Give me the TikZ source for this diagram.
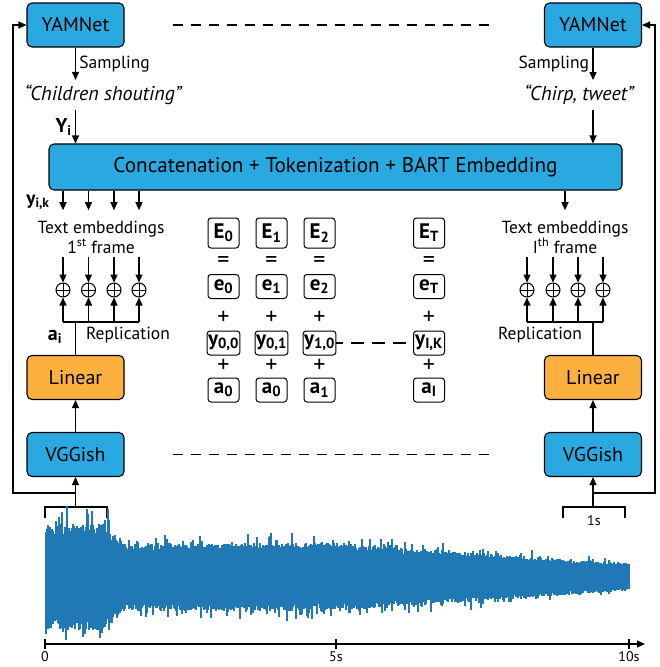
\documentclass[tikz,border=0pt]{standalone}
\usepackage{fontspec}
\setmainfont{PT Sans}
\usepackage{tikz}
\usetikzlibrary{arrows.meta, positioning, calc}
\definecolor{yamblue}{HTML}{29A9E0}
\definecolor{linorange}{HTML}{FBB040}
\definecolor{waveblue}{HTML}{2078B4}

\begin{document}
\begin{tikzpicture}[
    x=1pt, y=-1pt,
    box/.style={draw, line width=1.1pt, rounded corners=5pt, minimum width=97pt, minimum height=44pt, font=\fontsize{20}{24}\selectfont},
    cell/.style={draw, line width=1pt, rounded corners=3pt, minimum width=31pt, minimum height=24pt, inner sep=1pt, font=\bfseries\fontsize{21}{24}\selectfont},
    arr/.style={-{Triangle[length=8pt, width=7pt]}, line width=1.1pt},
    wire/.style={line width=1.1pt},
    dashline/.style={line width=1.1pt, dash pattern=on 10pt off 8pt},
    lbl/.style={font=\fontsize{17.5}{20}\selectfont},
    blbl/.style={font=\bfseries\fontsize{20}{22}\selectfont},
    quote/.style={font=\itshape\fontsize{20}{22}\selectfont, inner ysep=5pt},
    sgn/.style={font=\fontsize{24}{24}\selectfont, inner sep=0pt},
    axlbl/.style={font=\fontsize{14}{16}\selectfont},
    wave/.style={waveblue, line width=1.3pt},
    oplus/.style={circle, draw, line width=1pt, minimum size=14pt, inner sep=0pt,
        path picture={\draw[line width=1pt] (path picture bounding box.north) -- (path picture bounding box.south)
            (path picture bounding box.west) -- (path picture bounding box.east);}},
]
\fill[white] (0,0) rectangle (660,667);
\useasboundingbox (0,0) rectangle (660,667);

% YAMNet
\node[box, fill=yamblue] (yamL) at (75.5,25) {YAMNet};
\node[box, fill=yamblue] (yamR) at (593,25) {YAMNet};
\draw[dashline, shorten <=48pt, shorten >=50pt] (yamL) -- (yamR);

% Sampled captions
\node[quote] (capL) at (103,95) {“Children shouting”};
\node[quote] (capR) at (579,95) {“Chirp, tweet”};
\draw[arr] (yamL) -- (yamL |- capL.north) node[lbl, midway, right] {Sampling};
\draw[arr] (yamR) -- (yamR |- capR.north) node[lbl, midway, left] {Sampling};

% Concatenation
\node[box, fill=yamblue, minimum width=573pt, minimum height=46pt, font=\fontsize{21.2}{24}\selectfont] (concat) at (335.5,167) {Concatenation + Tokenization + BART Embedding};
\draw[arr] (capL.south -| yamL) -- (yamL |- concat.north) node[blbl, midway, left] {Y\textsubscript{i}};
\draw[arr] (capR.south -| yamR) -- (yamR |- concat.north);

% Text embeddings
\node[lbl, align=center] (txtL) at (101,237) {Text embeddings\\1\textsuperscript{st} frame};
\node[lbl, align=center] (txtR) at (565,237) {Text embeddings\\I\textsuperscript{th} frame};
\node[blbl, font=\bfseries\fontsize{19}{22}\selectfont] (yik) at (38,202) {y\textsubscript{i,k}};

% Sums
\node[oplus] (pL1) at (63,290) {};
\node[oplus] (pL2) at (88.5,290) {};
\node[oplus] (pL3) at (114,290) {};
\node[oplus] (pL4) at (139,290) {};
\node[oplus] (pR1) at (527,290) {};
\node[oplus] (pR2) at (553,290) {};
\node[oplus] (pR3) at (578,290) {};
\node[oplus] (pR4) at (603,290) {};
\foreach \i in {1,...,4} {
    \draw[arr, shorten >=7pt] (concat.south -| pL\i) -- (txtL.north -| pL\i);
    \draw[arr] (txtL.south -| pL\i) -- (pL\i);
    \draw[arr] (txtR.south -| pR\i) -- (pR\i);
}
\draw[arr, shorten >=7pt] (concat.south -| txtR) -- (txtR.north);

% Linear and VGGish
\node[box, fill=linorange] (linL) at (75.5,377.5) {Linear};
\node[box, fill=linorange] (linR) at (593,377.5) {Linear};
\node[box, fill=yamblue] (vggL) at (75.5,454.5) {VGGish};
\node[box, fill=yamblue] (vggR) at (593,454.5) {VGGish};
\draw[arr] (vggL) -- (linL);
\draw[arr] (vggR) -- (linR);
\draw[dashline, shorten <=48pt, shorten >=50pt] (vggL) -- (vggR);

% Replication
\coordinate (repL) at (75.5,322);
\coordinate (repR) at (593,322);
\draw[wire] (linL) -- (repL);
\draw[wire] (linR) -- (repR);
\draw[wire] (repL -| pL1) -- (repL -| pL4);
\draw[wire] (repR -| pR1) -- (repR -| pR4);
\foreach \i in {1,...,4} {
    \draw[arr] (repL -| pL\i) -- (pL\i);
    \draw[arr] (repR -| pR\i) -- (pR\i);
}
\node[blbl] (ai) at (55,337) {a\textsubscript{i}};
\node[lbl] (repLabL) at (128,335) {Replication};
\node[lbl] (repLabR) at (540,335) {Replication};

% Token sums
\node[cell, minimum height=30pt] (E0) at (223.5,233) {E\textsubscript{0}};
\node[cell, minimum height=30pt] (E1) at (271.5,233) {E\textsubscript{1}};
\node[cell, minimum height=30pt] (E2) at (319.5,233) {E\textsubscript{2}};
\node[cell, minimum height=30pt] (ET) at (429,233) {E\textsubscript{T}};
\node[sgn] (q0) at (223.5,262) {=};
\node[sgn] (q1) at (271.5,262) {=};
\node[sgn] (q2) at (319.5,262) {=};
\node[sgn] (qT) at (429,262) {=};
\node[cell] (e0) at (223.5,286.5) {e\textsubscript{0}};
\node[cell] (e1) at (271.5,286.5) {e\textsubscript{1}};
\node[cell] (e2) at (319.5,286.5) {e\textsubscript{2}};
\node[cell] (eT) at (429,286.5) {e\textsubscript{T}};
\node[sgn] (s0) at (223.5,318) {+};
\node[sgn] (s1) at (271.5,318) {+};
\node[sgn] (s2) at (319.5,318) {+};
\node[sgn] (sT) at (429,318) {+};
\node[cell] (y00) at (223.5,343) {y\textsubscript{0,0}};
\node[cell] (y01) at (271.5,343) {y\textsubscript{0,1}};
\node[cell] (y10) at (319.5,343) {y\textsubscript{1,0}};
\node[cell] (yIK) at (429,343) {y\textsubscript{I,K}};
\node[sgn] (t0) at (223.5,366) {+};
\node[sgn] (t1) at (271.5,366) {+};
\node[sgn] (t2) at (319.5,366) {+};
\node[sgn] (tT) at (429,366) {+};
\node[cell] (a0) at (223.5,390) {a\textsubscript{0}};
\node[cell] (a0b) at (271.5,390) {a\textsubscript{0}};
\node[cell] (a1) at (319.5,390) {a\textsubscript{1}};
\node[cell] (aI) at (429,390) {a\textsubscript{I}};
\draw[dashline, dash pattern=on 13pt off 8pt, dash phase=6pt] (y10) -- (yIK);

% Feedback loops
\coordinate (braL) at (75.5,507);
\coordinate (braR) at (593,507);
\coordinate (loopL) at (13,493);
\coordinate (loopR) at (655,493);
\draw[arr] (braL) -- (vggL);
\draw[arr] (braR) -- (vggR);
\draw[arr] (braL |- loopL) -- (loopL) |- (yamL);
\draw[arr] (braR |- loopR) -- (loopR) |- (yamR);
\draw[wire] (45,518) |- (107,507) -- (107,518);
\draw[wire] (563,518) |- (625,507) -- (625,518);
\node[axlbl] (oneS) at (594,521) {1s};

% Waveform
\pgfmathsetseed{42}
\foreach \x in {46,...,629} {
    \pgfmathsetmacro{\env}{\x<106 ? 58 : (\x<122 ? 58-21*(\x-106)/16 : (\x<330 ? 37 : 37-22*(\x-330)/299))}
    \pgfmathsetmacro{\up}{\env*(0.72+0.2*rnd+0.35*rnd^10)}
    \pgfmathsetmacro{\dn}{\env*(0.72+0.2*rnd+0.35*rnd^10)}
    \draw[wave] (\x,577-\up) -- (\x,577+\dn);
}

% Time axis
\coordinate (ax0) at (45,644);
\coordinate (axEnd) at (645,644);
\draw[arr] (ax0) -- (axEnd);
\draw[wire] (45,639) -- (45,649);
\draw[wire] (336,639) -- (336,649);
\draw[wire] (629,639) -- (629,649);
\node[axlbl] (l0) at (45,657) {0};
\node[axlbl] (l5) at (336,657) {5s};
\node[axlbl] (l10) at (629,657) {10s};

\end{tikzpicture}
\end{document}
